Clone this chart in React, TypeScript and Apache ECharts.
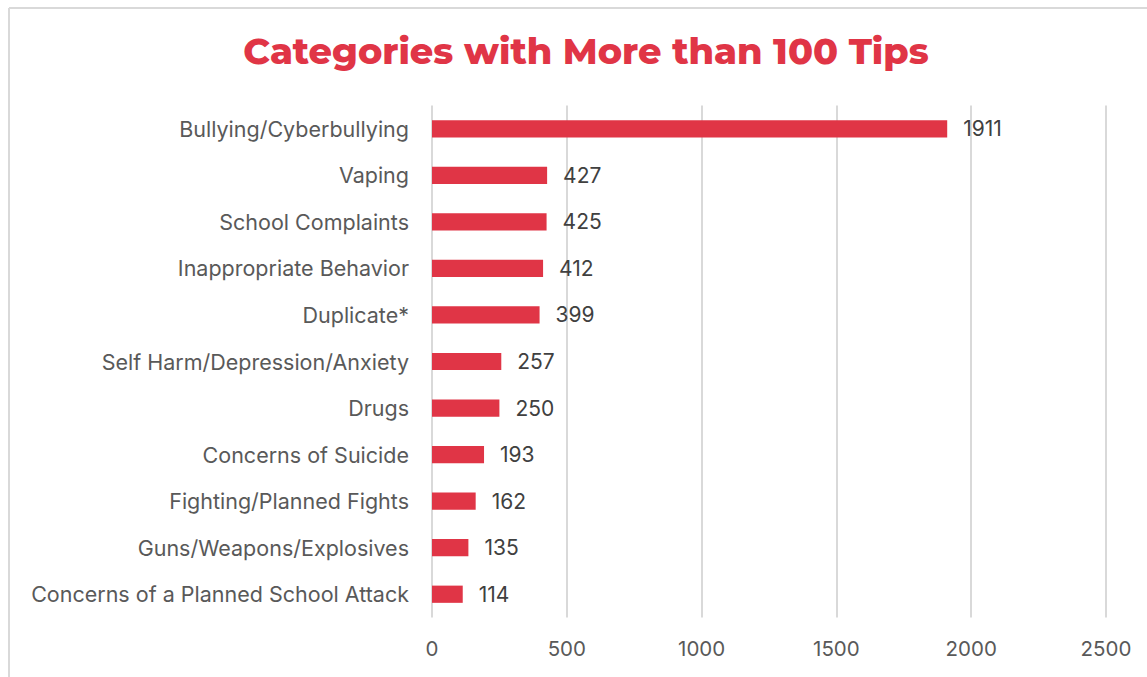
import React, { useEffect, useRef } from "react";
import * as echarts from "echarts";

const categories = [
  "Bullying/Cyberbullying",
  "Vaping",
  "School Complaints",
  "Inappropriate Behavior",
  "Duplicate*",
  "Self Harm/Depression/Anxiety",
  "Drugs",
  "Concerns of Suicide",
  "Fighting/Planned Fights",
  "Guns/Weapons/Explosives",
  "Concerns of a Planned School Attack",
];
const tips = [1911, 427, 425, 412, 399, 257, 250, 193, 162, 135, 114];
const titleText = "Categories with More than 100 Tips";
const labelFont = "Inter, 'Open Sans', sans-serif";

export default function App() {
  const ref = useRef<HTMLDivElement>(null);
  useEffect(() => {
    if (!ref.current) return;
    const chart = echarts.init(ref.current, null, { renderer: "svg" });
    chart.setOption({
      animation: false,
      backgroundColor: "#ffffff",
      title: {
        text: titleText,
        left: 581,
        top: 27,
        textAlign: "center",
        textStyle: {
          color: "#E03546",
          fontFamily: "Montserrat, 'Open Sans', sans-serif",
          fontWeight: 800,
          fontSize: 36.6,
        },
      },
      graphic: [
        {
          type: "line",
          shape: { x1: 9, y1: 8, x2: 1147, y2: 8 },
          style: { stroke: "#d9d9d9", lineWidth: 2 },
        },
        {
          type: "line",
          shape: { x1: 9, y1: 8, x2: 9, y2: 677 },
          style: { stroke: "#d9d9d9", lineWidth: 2 },
        },
      ],
      grid: { left: 432, right: 41, top: 105.5, bottom: 59.5, containLabel: false },
      xAxis: {
        type: "value",
        min: 0,
        max: 2500,
        interval: 500,
        axisLine: { show: false },
        axisTick: { show: false },
        splitLine: { lineStyle: { color: "#d9d9d9", width: 2 } },
        axisLabel: {
          color: "#595959",
          fontSize: 20.5,
          fontFamily: labelFont,
          margin: 20,
          formatter: (v: number) => String(v),
        },
      },
      yAxis: {
        type: "category",
        data: categories,
        inverse: true,
        axisLine: { show: false },
        axisTick: { show: false },
        axisLabel: {
          color: "#595959",
          fontSize: 21.5,
          fontFamily: labelFont,
          margin: 23,
        },
      },
      series: [
        {
          type: "bar",
          data: tips,
          barWidth: "37%",
          itemStyle: { color: "#E03546" },
          label: {
            show: true,
            position: "right",
            distance: 16,
            color: "#404040",
            fontSize: 21,
            fontFamily: labelFont,
          },
        },
      ],
    });
    return () => chart.dispose();
  }, []);
  return (
    <div
      ref={ref}
      style={{ position: "fixed", left: 0, top: 0, width: 1147, height: 677 }}
    />
  );
}
